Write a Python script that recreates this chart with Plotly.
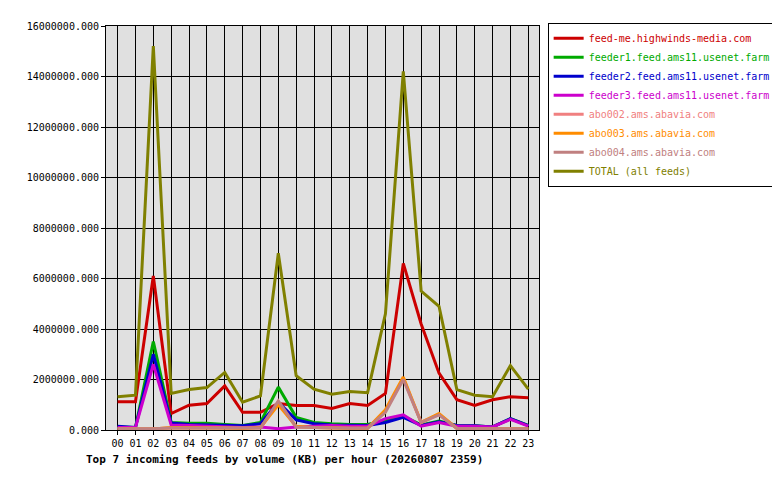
import plotly.graph_objects as go

hours = ["%02d" % h for h in range(24)]

total = [1.32, 1.38, 15.2, 1.45, 1.6, 1.68, 2.28, 1.1, 1.35, 7.0, 2.15, 1.62,
         1.42, 1.52, 1.48, 4.6, 14.2, 5.5, 4.9, 1.6, 1.38, 1.32, 2.55, 1.62]
feed_me = [1.12, 1.12, 6.1, 0.65, 0.98, 1.05, 1.75, 0.7, 0.7, 1.05, 0.97, 0.97,
           0.85, 1.05, 0.97, 1.45, 6.6, 4.2, 2.25, 1.2, 0.97, 1.2, 1.32, 1.28]
feeder1 = [0.12, 0.1, 3.5, 0.3, 0.27, 0.27, 0.22, 0.18, 0.3, 1.7, 0.5, 0.3,
           0.25, 0.22, 0.22, 0.4, 0.55, 0.2, 0.35, 0.18, 0.17, 0.12, 0.45, 0.18]
feeder2 = [0.15, 0.1, 3.0, 0.28, 0.22, 0.2, 0.2, 0.17, 0.25, 1.1, 0.4, 0.25,
           0.2, 0.18, 0.18, 0.3, 0.5, 0.18, 0.33, 0.18, 0.17, 0.12, 0.45, 0.17]
feeder3 = [0.1, 0.1, 2.6, 0.2, 0.18, 0.15, 0.15, 0.1, 0.12, 0.05, 0.12, 0.15,
           0.18, 0.15, 0.15, 0.45, 0.6, 0.15, 0.3, 0.15, 0.15, 0.12, 0.42, 0.15]
abo002 = [0.05, 0.05, 0.05, 0.08, 0.08, 0.08, 0.07, 0.06, 0.08, 1.1, 0.12, 0.1,
          0.08, 0.07, 0.07, 0.75, 2.05, 0.3, 0.62, 0.07, 0.06, 0.06, 0.06, 0.05]
abo003 = [0.04, 0.04, 0.04, 0.1, 0.1, 0.1, 0.08, 0.06, 0.1, 1.0, 0.15, 0.1,
          0.08, 0.07, 0.07, 0.8, 2.1, 0.3, 0.65, 0.06, 0.06, 0.05, 0.05, 0.05]
abo004 = [0.05, 0.05, 0.05, 0.08, 0.08, 0.08, 0.07, 0.06, 0.08, 1.15, 0.12, 0.1,
          0.08, 0.07, 0.07, 0.7, 2.0, 0.3, 0.6, 0.06, 0.06, 0.05, 0.05, 0.05]

series = [
    ("feed-me.highwinds-media.com", feed_me, "#cc0000"),
    ("feeder1.feed.ams11.usenet.farm", feeder1, "#00aa00"),
    ("feeder2.feed.ams11.usenet.farm", feeder2, "#0000cc"),
    ("feeder3.feed.ams11.usenet.farm", feeder3, "#cc00cc"),
    ("abo002.ams.abavia.com", abo002, "#f08080"),
    ("abo003.ams.abavia.com", abo003, "#ff8c00"),
    ("abo004.ams.abavia.com", abo004, "#c08080"),
    ("TOTAL (all feeds)", total, "#808000"),
]

fig = go.Figure()
for name, vals, col in series:
    fig.add_trace(go.Scatter(
        x=list(range(24)), y=[v * 1e6 for v in vals], mode="lines",
        name='<span style="color:%s">%s</span>' % (col, name),
        line=dict(color=col, width=3),
    ))

mono = "DejaVu Sans Mono"
axis_style = dict(showgrid=True, gridcolor="black", gridwidth=1, zeroline=False,
                  showline=True, linecolor="black", mirror=True, ticks="outside",
                  ticklen=4, tickcolor="black", automargin=False,
                  tickfont=dict(family=mono, size=10))
fig.update_layout(
    width=780, height=480,
    margin=dict(l=98, r=232, t=18, b=58),
    paper_bgcolor="white", plot_bgcolor="#e0e0e0",
    font=dict(family=mono, size=10, color="black"),
    legend=dict(x=1.02, y=1.008, xanchor="left", yanchor="top",
                bordercolor="black", borderwidth=1, bgcolor="white",
                traceorder="normal", itemwidth=30, tracegroupgap=0,
                font=dict(family=mono, size=10)),
    xaxis=dict(range=[-0.65, 23.6], tickvals=list(range(24)), ticktext=hours,
               **axis_style),
    yaxis=dict(range=[0, 16e6], dtick=2e6, tickformat=".3f", **axis_style),
)

fig.add_annotation(x=-0.051, y=-0.074, xref="paper", yref="paper",
                   xanchor="left", yanchor="middle", showarrow=False,
                   text="<b>Top 7 incoming feeds by volume (KB) per hour (20260807 2359)</b>",
                   font=dict(family=mono, size=11))

fig.write_html("out.html")
